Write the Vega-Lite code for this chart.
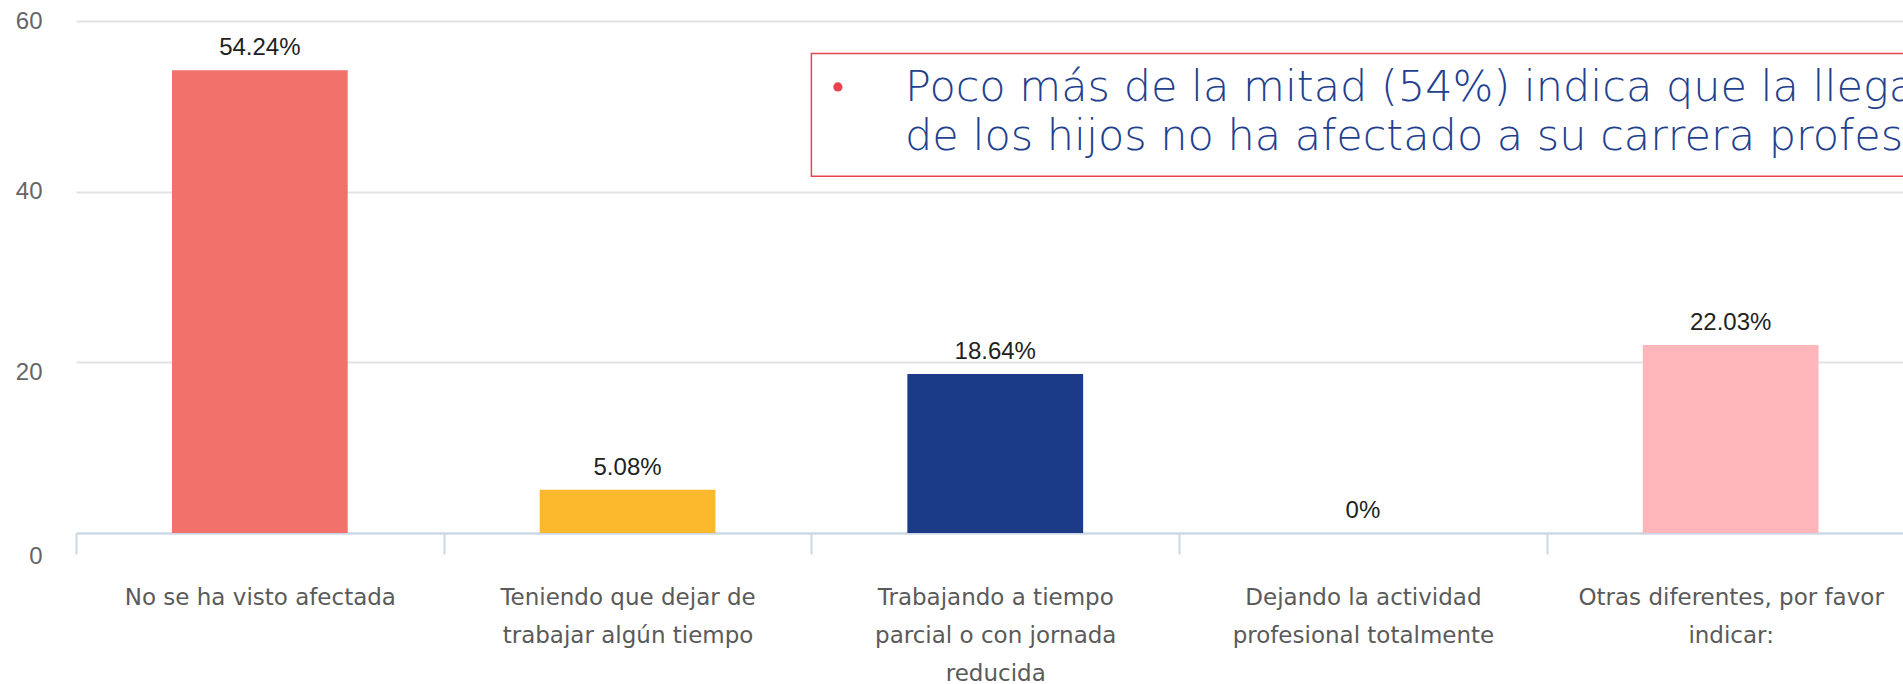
{
  "$schema": "https://vega.github.io/schema/vega-lite/v6.json",
  "width": 1827,
  "height": 512,
  "autosize": {"type": "none"},
  "padding": {"left": 76, "top": 21, "right": 0, "bottom": 151},
  "background": "white",
  "config": {"view": {"stroke": null}},
  "datasets": {
    "bars": [
      {"cat": "No se ha visto afectada", "value": 54.24, "label": "54.24%"},
      {"cat": "Teniendo que dejar de|trabajar algún tiempo", "value": 5.08, "label": "5.08%"},
      {"cat": "Trabajando a tiempo|parcial o con jornada|reducida", "value": 18.64, "label": "18.64%"},
      {"cat": "Dejando la actividad|profesional totalmente", "value": 0, "label": "0%"},
      {"cat": "Otras diferentes, por favor|indicar:", "value": 22.03, "label": "22.03%"}
    ],
    "box": [{"x": 2, "x2": 5, "y": 56.18, "y2": 41.8}],
    "bullet": [{"x": 2.072, "y": 52.27}],
    "note": [
      {"x": 2.2546, "y": 50.6, "text": "Poco más de la mitad (54%) indica que la llegada"},
      {"x": 2.2546, "y": 44.9, "text": "de los hijos no ha afectado a su carrera profesional."}
    ]
  },
  "layer": [
    {
      "data": {"name": "bars"},
      "encoding": {
        "x": {
          "field": "cat",
          "type": "nominal",
          "sort": null,
          "scale": {"type": "band", "range": [0, 1838.5], "paddingInner": 0, "paddingOuter": 0},
          "axis": {
            "title": null,
            "labelAngle": 0,
            "labelExpr": "split(datum.label, '|')",
            "tickBand": "extent",
            "domainColor": "#c9d6e6",
            "domainWidth": 2,
            "tickColor": "#c9d6e6",
            "tickWidth": 2,
            "tickSize": 21,
            "labelPadding": 32,
            "labelFont": "DejaVu Sans",
            "labelFontSize": 23,
            "labelColor": "#5a5a5a",
            "labelLineHeight": 38,
            "labelLimit": 400
          }
        },
        "y": {
          "field": "value",
          "type": "quantitative",
          "scale": {"domain": [0, 60], "nice": false},
          "axis": {
            "title": null,
            "values": [0, 20, 40, 60],
            "grid": true,
            "gridColor": "#e3e3e3",
            "gridWidth": 2,
            "domain": false,
            "ticks": false,
            "labelPadding": 34,
            "labelFont": "Liberation Sans",
            "labelFontSize": 24,
            "labelColor": "#666666",
            "labelOffset": {"expr": "datum.value == 0 ? 23 : datum.value == 20 ? 10 : 0"}
          }
        }
      },
      "layer": [
        {
          "mark": {"type": "bar", "width": {"band": 0.478}},
          "encoding": {
            "color": {
              "field": "cat",
              "type": "nominal",
              "legend": null,
              "scale": {
                "domain": [
                  "No se ha visto afectada",
                  "Teniendo que dejar de|trabajar algún tiempo",
                  "Trabajando a tiempo|parcial o con jornada|reducida",
                  "Dejando la actividad|profesional totalmente",
                  "Otras diferentes, por favor|indicar:"
                ],
                "range": ["#F2726B", "#FDB92D", "#1B3A87", "#9E9E9E", "#FFB6BA"]
              }
            }
          }
        },
        {
          "mark": {"type": "text", "dy": -15, "baseline": "alphabetic", "font": "Liberation Sans", "fontSize": 24, "color": "#222222"},
          "encoding": {"text": {"field": "label"}}
        }
      ]
    },
    {
      "layer": [
        {
          "data": {"name": "box"},
          "mark": {"type": "rect", "fill": null, "fillOpacity": 0, "stroke": "#E8434F", "strokeWidth": 1.5, "clip": false},
          "encoding": {
            "x": {"field": "x", "type": "quantitative", "scale": {"domain": [0, 5], "range": [0, 1838.5], "nice": false, "zero": false}, "axis": null},
            "x2": {"field": "x2"},
            "y": {"field": "y", "type": "quantitative", "title": null},
            "y2": {"field": "y2"}
          }
        },
        {
          "data": {"name": "bullet"},
          "mark": {"type": "point", "filled": true, "shape": "circle", "size": 85, "color": "#E8434F", "opacity": 1},
          "encoding": {
            "x": {"field": "x", "type": "quantitative", "axis": null},
            "y": {"field": "y", "type": "quantitative", "title": null}
          }
        },
        {
          "data": {"name": "note"},
          "mark": {"type": "text", "align": "left", "baseline": "alphabetic", "font": "DejaVu Sans", "fontWeight": 200, "fontSize": 43, "color": "#22408E"},
          "encoding": {
            "x": {"field": "x", "type": "quantitative", "axis": null},
            "y": {"field": "y", "type": "quantitative", "title": null},
            "text": {"field": "text"}
          }
        }
      ]
    }
  ],
  "resolve": {"scale": {"x": "independent", "color": "independent"}}
}
